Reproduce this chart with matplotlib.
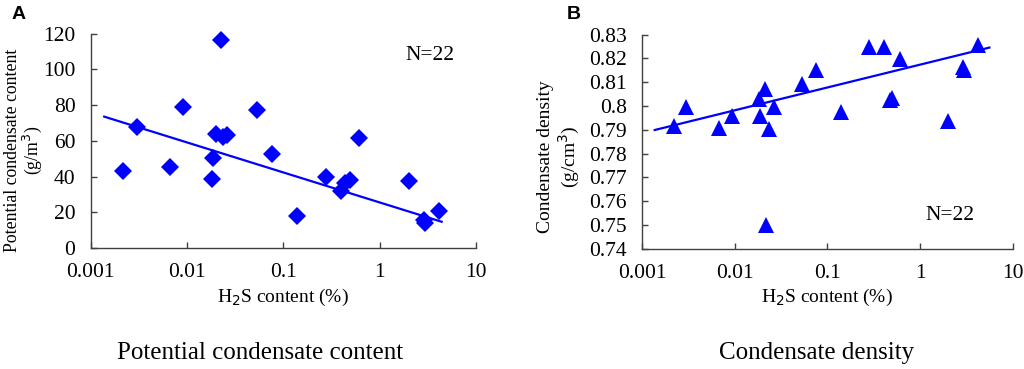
import numpy as np
import matplotlib.pyplot as plt

# H2S content (%) shared by both panels
h2s_a = [0.00218, 0.0030, 0.00666, 0.00916, 0.0183, 0.0188, 0.0200, 0.0224, 0.0235, 0.0258,
         0.053, 0.0758, 0.140, 0.275, 0.394, 0.437, 0.493, 0.616, 2.04, 2.89, 2.93, 4.11]
condensate_content = [43, 67.7, 45.5, 78.8, 38.6, 50.4, 63.8, 116.3, 62.3, 63.3,
                      77.3, 52.4, 18.1, 39.9, 32.1, 36.2, 38.1, 61.6, 37.7, 15.7, 14.2, 20.5]

h2s_b = [0.00223, 0.00298, 0.00671, 0.00934, 0.0184, 0.0186, 0.0210, 0.0219, 0.0236, 0.0263,
         0.0531, 0.0758, 0.141, 0.278, 0.404, 0.468, 0.496, 0.61, 2.02, 2.94, 2.98, 4.2]
condensate_density = [0.7916, 0.7997, 0.7909, 0.7958, 0.8031, 0.7959, 0.807, 0.750, 0.7903, 0.7994,
                      0.8093, 0.8151, 0.7975, 0.825, 0.825, 0.8025, 0.8034, 0.8196, 0.7938, 0.8165, 0.815, 0.8258]

# logarithmic trend lines: y = a + b*log10(x)
trend_a = (25.5, -16.8, 0.00138, 4.4)
trend_b = (0.8174, 0.0096, 0.00137, 5.6)

plt.rcParams['font.family'] = 'Liberation Serif'
fs_tick = 15.5
fs_lab = 14
blue = '#0000FF'
spine = '#404040'

fig = plt.figure(figsize=(10.24, 3.69), dpi=100)
axA = fig.add_axes([0.0886, 0.328, 0.3762, 0.5807])
axB = fig.add_axes([0.627, 0.326, 0.362, 0.580])


def style(ax):
    ax.set_xscale('log')
    ax.set_xlim(0.001, 10)
    ax.set_xticks([0.001, 0.01, 0.1, 1, 10])
    ax.set_xticklabels(['0.001', '0.01', '0.1', '1', '10'])
    ax.minorticks_off()
    for s in ['top', 'right']:
        ax.spines[s].set_visible(False)
    for s in ['left', 'bottom']:
        ax.spines[s].set_color(spine)
        ax.spines[s].set_linewidth(1)
    ax.tick_params(direction='in', length=4, width=1, color=spine, labelsize=fs_tick, pad=11)
    ax.set_xlabel('H$_2$S content (%)', fontsize=fs_lab, labelpad=3)


def trend(ax, t):
    a, b, x0, x1 = t
    xs = np.logspace(np.log10(x0), np.log10(x1), 50)
    ax.plot(xs, a + b * np.log10(xs), color=blue, lw=1.6, zorder=2)


# Panel A
style(axA)
axA.set_ylim(0, 120)
axA.set_yticks(range(0, 121, 20))
axA.plot(h2s_a, condensate_content, 'D', color=blue, ms=9.5, mew=0, zorder=3, clip_on=False)
trend(axA, trend_a)
axA.set_ylabel('Potential condensate content\n(g/m$^3$)', fontsize=12.8, linespacing=1.0)
axA.yaxis.set_label_coords(-0.121, 0.457)
axA.text(0.945, 0.90, 'N=22', transform=axA.transAxes, fontsize=15.5, ha='right', va='center')

# Panel B
style(axB)
axB.set_ylim(0.74, 0.83)
axB.set_yticks(np.arange(0.74, 0.8301, 0.01))
axB.set_yticklabels(['0.74', '0.75', '0.76', '0.77', '0.78', '0.79', '0.8', '0.81', '0.82', '0.83'])
axB.plot(h2s_b, condensate_density, '^', color=blue, ms=12, mew=0, zorder=3, clip_on=False)
trend(axB, trend_b)
axB.set_ylabel('Condensate density\n(g/cm$^3$)', fontsize=14, linespacing=1.15)
axB.yaxis.set_label_coords(-0.162, 0.43)
axB.text(0.898, 0.157, 'N=22', transform=axB.transAxes, fontsize=15.5, ha='right', va='center')

# panel letters and captions
fig.text(0.011, 0.96, 'A', fontsize=14, fontweight='bold', family='Liberation Sans', va='center')
fig.text(0.553, 0.96, 'B', fontsize=14, fontweight='bold', family='Liberation Sans', va='center')
fig.text(0.254, 0.043, 'Potential condensate content', fontsize=18, ha='center', va='center')
fig.text(0.797, 0.043, 'Condensate density', fontsize=18, ha='center', va='center')

fig.savefig('out.png', dpi=100, facecolor='white')
